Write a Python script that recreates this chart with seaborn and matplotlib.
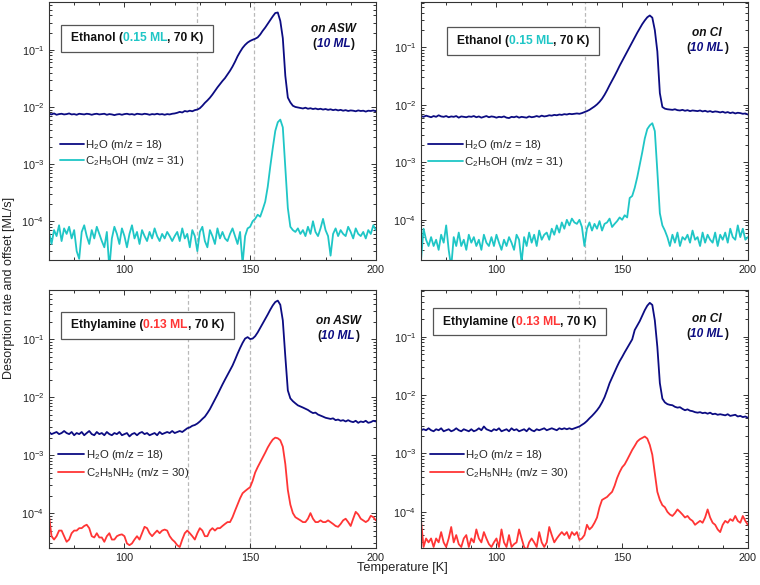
import numpy as np
import pandas as pd
import seaborn as sns
import matplotlib.pyplot as plt
from matplotlib.offsetbox import TextArea, HPacker, VPacker, AnchoredOffsetbox, DrawingArea

sns.set_theme(style='ticks')
plt.rcParams['font.family'] = ['Liberation Sans', 'DejaVu Sans']
plt.rcParams['mathtext.fontset'] = 'custom'
plt.rcParams['mathtext.rm'] = 'Liberation Sans'
plt.rcParams['mathtext.it'] = 'Liberation Sans:italic'
plt.rcParams['mathtext.bf'] = 'Liberation Sans:bold'

NAVY = '#0c0c82'
CYAN = '#1fc6c6'
RED = '#ff3535'

# temperature grid [K], 1 K steps
temp = np.arange(70, 201)

# ethanol on ASW: water in 1e-3 ML/s, ethanol in 1e-5 ML/s
eth_asw_h2o = [
    7.6, 7.4, 7.7, 7.3, 7.5, 7.6, 7.4, 7.5, 7.7, 7.4,
    7.5, 7.3, 7.6, 7.5, 7.4, 7.6, 7.5, 7.3, 7.5, 7.6,
    7.4, 7.5, 7.6, 7.3, 7.5, 7.4, 7.2, 7.4, 7.5, 7.3,
    7.5, 7.6, 7.4, 7.5, 7.3, 7.6, 7.5, 7.4, 7.6, 7.5,
    7.3, 7.5, 7.4, 7.6, 7.4, 7.5, 7.3, 7.5, 7.4, 7.6,
    7.7, 7.9, 8.2, 8.0, 8.5, 8.3, 8.6, 8.4, 8.8, 9.0,
    9.5, 10.5, 11.8, 13, 14.5, 16.5, 19, 22, 25, 28.5,
    32, 37, 43, 51, 62, 77, 92, 108, 122, 134,
    143, 150, 156, 165, 185, 215, 245, 285, 330, 385,
    440, 450, 320, 160, 35, 14.6, 12, 10.5, 10, 9.8,
    9.6, 9.4, 9.7, 9.3, 9.5, 9.2, 9.4, 9.1, 9.3, 9.0,
    9.2, 8.9, 9.1, 8.8, 9.0, 8.7, 8.9, 8.6, 8.8, 8.5,
    8.7, 8.6, 8.4, 8.7, 8.5, 8.6, 8.3, 8.6, 8.5, 8.7, 8.4]
eth_asw_mol = [
    6.5, 4.0, 7.0, 5.5, 8.5, 4.5, 7.5, 6.0, 8.0, 5.0,
    7.0, 3.0, 2.2, 6.5, 8.5, 5.5, 4.0, 7.0, 5.0, 8.0,
    6.0, 4.5, 3.5, 6.5, 1.5, 5.0, 8.0, 6.0, 4.0, 7.5,
    5.5, 3.5, 6.0, 8.5, 5.0, 6.5, 4.0, 7.0, 5.5, 4.5,
    6.5, 5.0, 7.5, 5.5, 4.5, 6.0, 5.0, 6.5, 5.5, 4.5,
    5.5, 6.5, 4.5, 7.5, 5.0, 6.0, 3.5, 7.0, 5.5, 3.0,
    6.5, 8.0, 4.5, 3.5, 7.0, 5.5, 4.0, 7.5, 5.0, 6.5,
    5.0, 4.5, 6.0, 7.5, 5.5, 4.0, 6.5, 1.8, 5.5, 7.5,
    8.0, 10, 11, 13, 12, 16, 22, 40, 90, 190,
    380, 540, 600, 440, 88, 17, 8.0, 7.0, 6.5, 7.5,
    6.0, 7.0, 5.5, 8.0, 6.0, 10, 6.5, 5.5, 7.5, 11,
    7.0, 5.5, 2.5, 6.0, 7.5, 5.5, 7.0, 6.0, 5.5, 8.0,
    6.5, 5.0, 7.5, 6.0, 5.5, 6.5, 5.0, 7.0, 6.0, 8.5, 7.0]

# ethanol on CI
eth_ci_h2o = [
    6.4, 6.2, 6.5, 6.3, 6.1, 6.4, 6.2, 6.6, 6.3, 6.2,
    6.4, 6.1, 6.3, 6.2, 6.4, 6.0, 6.3, 6.2, 6.1, 6.3,
    6.2, 6.4, 6.1, 6.3, 6.0, 6.2, 6.4, 6.1, 6.3, 6.2,
    6.0, 6.2, 6.1, 6.3, 6.0, 5.9, 6.2, 6.1, 6.3, 6.0,
    6.2, 6.1, 6.0, 6.3, 6.1, 6.2, 6.4, 6.2, 6.5, 6.3,
    6.4, 6.6, 6.5, 6.7, 6.6, 6.8, 6.7, 6.9, 6.8, 7.0,
    6.9, 7.0, 7.1, 7.0, 7.2, 7.5, 7.8, 8.2, 8.8, 9.4,
    10.2, 11.3, 12.8, 15, 18, 22, 26.5, 32, 39, 48,
    58, 70, 84, 102, 124, 150, 180, 215, 255, 295,
    335, 360, 330, 200, 85, 16, 9.2, 8.6, 8.4, 8.3,
    8.2, 8.4, 8.1, 8.0, 8.2, 7.9, 8.1, 7.8, 8.0, 7.9,
    7.8, 8.0, 7.7, 7.9, 7.6, 7.8, 7.5, 7.7, 7.6, 7.4,
    7.6, 7.3, 7.5, 7.2, 7.4, 7.1, 7.3, 7.2, 7.0, 7.1, 6.8]
eth_ci_mol = [
    2.0, 7.0, 4.5, 3.5, 5.0, 3.5, 4.5, 3.0, 5.5, 4.0,
    8.0, 3.0, 1.5, 5.0, 3.5, 6.0, 3.5, 4.5, 3.0, 5.5,
    4.0, 5.0, 3.5, 4.5, 3.0, 5.5, 4.0, 3.5, 5.0, 3.5,
    5.5, 4.0, 3.0, 4.5, 3.5, 5.0, 4.0, 3.0, 5.5, 4.5,
    1.8, 5.0, 3.5, 6.0, 4.0, 5.5, 3.5, 6.5, 4.5, 5.5,
    6.0, 4.5, 7.0, 5.5, 8.0, 6.0, 9.0, 7.0, 10, 8.0,
    10.5, 9.0, 8.5, 10, 7.5, 3.5, 7.0, 9.0, 6.5, 8.5,
    7.0, 9.5, 6.5, 8.5, 9.0, 10.5, 7.5, 8.5, 9.5, 11,
    10, 12, 11, 24, 26, 36, 55, 90, 150, 260,
    380, 440, 480, 350, 70, 13, 8.0, 6.5, 5.0, 3.5,
    5.5, 4.0, 6.0, 3.5, 5.0, 4.5, 5.5, 4.0, 6.5, 4.5,
    5.0, 3.5, 6.0, 4.0, 5.5, 4.5, 4.0, 6.0, 3.5, 5.5,
    4.5, 6.0, 4.0, 7.0, 5.0, 4.5, 8.0, 5.0, 7.0, 4.5, 5.0]

# ethylamine on ASW
eta_asw_h2o = [
    2.5, 2.3, 2.4, 2.5, 2.3, 2.4, 2.6, 2.4, 2.3, 2.5,
    2.2, 2.4, 2.3, 2.5, 2.2, 2.4, 2.6, 2.3, 2.2, 2.5,
    2.3, 2.4, 2.2, 2.5, 2.3, 2.2, 2.4, 2.3, 2.5, 2.2,
    2.3, 2.4, 2.1, 2.3, 2.4, 2.2, 2.4, 2.5, 2.3, 2.4,
    2.2, 2.3, 2.4, 2.2, 2.5, 2.3, 2.4, 2.5, 2.4, 2.6,
    2.4, 2.5, 2.6, 2.5, 2.7, 2.9, 3.0, 3.2, 3.3, 3.5,
    3.8, 4.2, 4.6, 5.3, 6.2, 7.5, 9.0, 11, 13.5, 16.5,
    20, 24, 29, 35, 44, 56, 70, 86, 102, 108,
    100, 102, 112, 130, 155, 185, 220, 265, 320, 380,
    435, 460, 390, 210, 50, 13, 9.5, 8.5, 7.8, 7.2,
    6.9, 6.6, 6.3, 6.0, 5.6, 5.3, 5.4, 5.0, 4.8, 4.6,
    4.4, 4.3, 4.2, 4.3, 4.0, 4.1, 3.9, 4.0, 3.8, 4.0,
    3.8, 3.7, 3.9, 3.6, 3.8, 3.7, 3.9, 3.6, 3.7, 3.9, 3.8]
eta_asw_mol = [
    9.0, 4.0, 3.5, 4.0, 5.0, 5.0, 4.0, 3.2, 3.5, 4.5,
    5.0, 5.0, 5.5, 5.5, 6.0, 6.3, 5.5, 4.0, 3.8, 4.5,
    3.8, 3.8, 3.2, 4.0, 4.5, 3.5, 3.5, 4.0, 4.2, 4.3,
    4.0, 3.0, 2.8, 3.0, 3.5, 4.0, 3.5, 4.5, 5.8, 5.5,
    4.5, 4.0, 4.5, 5.0, 4.5, 5.0, 5.2, 5.0, 4.0, 3.5,
    3.2, 2.8, 2.6, 3.5, 4.5, 5.0, 4.5, 4.0, 3.5, 4.5,
    5.5, 5.0, 4.0, 4.0, 5.0, 5.5, 5.0, 5.5, 5.5, 6.0,
    6.5, 7.0, 7.0, 8.5, 11, 14, 18, 22, 24, 26,
    28, 36, 50, 62, 75, 90, 110, 135, 160, 185,
    200, 195, 180, 140, 70, 25, 14, 10, 8.5, 8.0,
    7.5, 7.0, 7.0, 8.0, 10, 8.0, 7.0, 7.0, 7.5, 7.0,
    7.0, 7.5, 7.0, 6.5, 6.0, 5.8, 6.5, 7.5, 8.0, 7.0,
    6.0, 8.0, 10.5, 9.5, 8.0, 7.5, 7.0, 7.5, 9.0, 8.5, 7.5]

# ethylamine on CI
eta_ci_h2o = [
    2.5, 2.6, 2.5, 2.7, 2.5, 2.4, 2.6, 2.5, 2.7, 2.4,
    2.5, 2.6, 2.4, 2.5, 2.7, 2.5, 2.4, 2.6, 2.5, 2.4,
    2.6, 2.4, 2.5, 2.7, 2.5, 2.9, 2.6, 2.5, 2.4, 2.6,
    2.5, 2.7, 2.4, 2.5, 2.6, 2.4, 2.7, 2.5, 2.6, 2.4,
    2.5, 2.6, 2.4, 2.7, 2.5, 2.4, 2.6, 2.5, 2.6, 2.7,
    2.5, 2.6, 2.7, 2.6, 2.5, 2.7, 2.6, 2.7, 2.6, 2.7,
    2.6, 2.7, 2.8, 2.9, 3.1, 3.3, 3.6, 4.0, 4.4, 4.9,
    5.5, 6.3, 7.5, 9.2, 12, 16, 20, 25, 31, 38,
    45, 54, 64, 76, 90, 130, 155, 185, 230, 285,
    340, 380, 350, 190, 67, 16, 8.7, 7.5, 7.0, 6.8,
    6.7, 6.3, 6.1, 6.2, 5.8, 5.5, 5.7, 5.4, 5.3, 5.1,
    5.0, 5.1, 4.9, 5.0, 4.8, 5.0, 4.7, 4.8, 4.6, 4.7,
    4.6, 4.5, 4.7, 4.4, 4.5, 4.6, 4.3, 4.4, 4.2, 4.3, 4.1]
eta_ci_mol = [
    7.0, 2.5, 3.5, 3.0, 3.5, 2.5, 3.5, 3.0, 4.5, 3.0,
    2.5, 3.5, 5.5, 3.0, 4.0, 2.8, 2.5, 3.5, 4.0, 2.5,
    3.5, 3.0, 5.0, 3.5, 3.0, 4.5, 3.5, 2.8, 2.5, 3.0,
    3.5, 2.5, 5.0, 3.0, 2.5, 4.0, 2.5, 2.8, 3.0, 5.0,
    3.5, 2.5, 2.2, 3.0, 3.5, 3.0, 2.5, 4.5, 3.0, 2.5,
    3.0, 5.5, 4.0, 3.0, 3.5, 4.0, 4.5, 4.0, 4.5, 3.5,
    4.5, 4.0, 4.5, 3.3, 3.5, 4.0, 6.0, 5.0, 5.5, 6.5,
    8.0, 12, 16, 17, 18, 20, 22, 28, 38, 48,
    58, 65, 78, 95, 115, 135, 160, 175, 185, 195,
    180, 140, 95, 45, 22, 16, 13, 12, 10, 9.0,
    8.5, 9.5, 11, 10, 9.0, 8.0, 8.5, 7.5, 7.0, 6.0,
    6.5, 7.0, 6.5, 8.0, 11, 8.0, 6.5, 6.0, 5.0, 4.5,
    6.0, 7.0, 6.5, 7.5, 7.0, 8.5, 7.0, 6.5, 8.5, 7.0, 6.0]

h2o_label = 'H$_2$O (m/z = 18)'
eth_label = 'C$_2$H$_5$OH (m/z = 31)'
eta_label = 'C$_2$H$_5$NH$_2$ (m/z = 30)'

panels = [
    dict(h2o=eth_asw_h2o, mol=eth_asw_mol, label=eth_label, color=CYAN,
         name='Ethanol', cov='0.15 ML', surf='on ASW', vlines=[128.7, 151.5],
         ylim=(2.1e-5, 0.7), box=(0.037, 0.91), leg=(0.034, 0.473), hl=2.1, ls=0.2,
         surf_xy=(0.87, 0.865)),
    dict(h2o=eth_ci_h2o, mol=eth_ci_mol, label=eth_label, color=CYAN,
         name='Ethanol', cov='0.15 ML', surf='on CI', vlines=[135.2],
         ylim=(2.0e-5, 0.63), box=(0.079, 0.90), leg=(0.021, 0.473), hl=3.1, ls=0.3,
         surf_xy=(0.875, 0.85)),
    dict(h2o=eta_asw_h2o, mol=eta_asw_mol, label=eta_label, color=RED,
         name='Ethylamine', cov='0.13 ML', surf='on ASW', vlines=[125.3, 150],
         ylim=(2.5e-5, 0.7), box=(0.037, 0.916), leg=(0.028, 0.388), hl=2.3, ls=0.4,
         surf_xy=(0.885, 0.85)),
    dict(h2o=eta_ci_h2o, mol=eta_ci_mol, label=eta_label, color=RED,
         name='Ethylamine', cov='0.13 ML', surf='on CI', vlines=[132.8],
         ylim=(2.4e-5, 0.63), box=(0.038, 0.93), leg=(0.028, 0.388), hl=3.0, ls=0.4,
         surf_xy=(0.875, 0.86)),
]

fig = plt.figure(figsize=(7.6, 5.85), dpi=100)
rects = [(0.0645, 0.5556, 0.430, 0.4418), (0.554, 0.5556, 0.430, 0.4418),
         (0.0645, 0.0632, 0.430, 0.441), (0.554, 0.0632, 0.430, 0.441)]

bold = dict(weight='bold', size=8.7)
bi = dict(weight='bold', style='italic', size=8.6)

for p, r in zip(panels, rects):
    ax = fig.add_axes(r)
    n = len(temp)
    df = pd.DataFrame({
        'T': np.concatenate([temp, temp]),
        'rate': np.concatenate([np.array(p['h2o']) * 1e-3, np.array(p['mol']) * 1e-5]),
        'species': [h2o_label] * n + [p['label']] * n,
    })
    sns.lineplot(data=df, x='T', y='rate', hue='species',
                 palette={h2o_label: NAVY, p['label']: p['color']},
                 linewidth=1.3, ax=ax)
    for v in p['vlines']:
        ax.axvline(v, color='#b9b9b9', ls=(0, (3, 2)), lw=0.9, zorder=0)
    ax.set_yscale('log')
    ax.set_xlim(70, 200)
    ax.set_ylim(*p['ylim'])
    ax.set_xticks([100, 150, 200])
    ax.set_xticks(np.arange(70, 201, 10), minor=True)
    ax.set_xlabel('')
    ax.set_ylabel('')
    ax.tick_params(which='both', direction='in', top=True, right=True,
                   colors='#333333', labelcolor='#222222', labelsize=7.8, width=0.7)
    ax.tick_params(which='major', length=3.5)
    ax.tick_params(which='minor', length=2)
    for s in ax.spines.values():
        s.set_color('#333333')
        s.set_linewidth(0.8)

    ax.legend(loc='upper left', bbox_to_anchor=p['leg'], frameon=False,
              fontsize=8.2, handlelength=p['hl'], handletextpad=0.1, borderpad=0,
              labelspacing=p['ls'], borderaxespad=0)

    # sample box with coloured coverage
    parts = [DrawingArea(1.5, 1),
             TextArea(p['name'] + ' (', textprops=dict(color='#111111', **bold)),
             TextArea(p['cov'], textprops=dict(color=p['color'], **bold)),
             TextArea(', 70 K)', textprops=dict(color='#111111', **bold)),
             DrawingArea(1.5, 1)]
    title = HPacker(children=parts, align='baseline', pad=0, sep=0)
    tbox = AnchoredOffsetbox(loc='upper left', child=title, pad=0.5, borderpad=0,
                             frameon=True, bbox_to_anchor=p['box'],
                             bbox_transform=ax.transAxes)
    tbox.patch.set_edgecolor('#555555')
    tbox.patch.set_linewidth(0.9)
    ax.add_artist(tbox)

    # substrate annotation
    line1 = TextArea(p['surf'], textprops=dict(color='#111111', **bi))
    line2 = HPacker(children=[TextArea('(', textprops=dict(color='#111111', **bold)),
                              TextArea('10 ML', textprops=dict(color=NAVY, **bi)),
                              TextArea(')', textprops=dict(color='#111111', **bold))],
                    align='baseline', pad=0, sep=0)
    surf = VPacker(children=[line1, line2], align='center', pad=0, sep=2)
    sbox = AnchoredOffsetbox(loc='center', child=surf, pad=0, borderpad=0, frameon=False,
                             bbox_to_anchor=p['surf_xy'], bbox_transform=ax.transAxes)
    ax.add_artist(sbox)

fig.text(0.012, 0.508, 'Desorption rate and offset [ML/s]', rotation=90,
         ha='center', va='center', fontsize=9, color='#222222')
fig.text(0.529, 0.029, 'Temperature [K]', ha='center', va='center',
         fontsize=9.2, color='#222222')

fig.savefig('out.png', dpi=100)
